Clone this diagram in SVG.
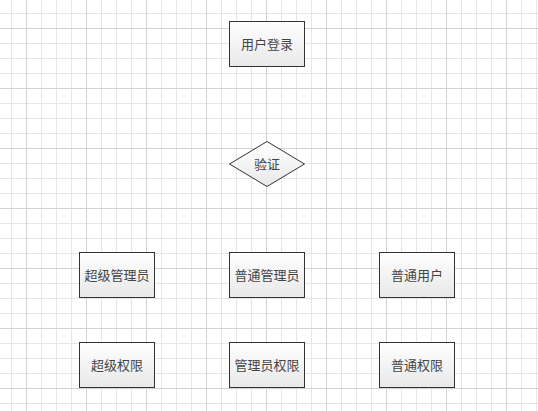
<svg xmlns="http://www.w3.org/2000/svg" width="538" height="411" viewBox="0 0 538 411">
<style>
.node{stroke:#333;stroke-width:1;fill:url(#g)}
.lbl{font-family:"Noto Sans CJK SC","Microsoft YaHei",sans-serif;font-size:13px;fill:#444;text-anchor:middle}
</style>
<defs>
<linearGradient id="g" x1="0" y1="0" x2="0" y2="1">
<stop offset="0" stop-color="#ffffff"/>
<stop offset="1" stop-color="#e8e8e8"/>
</linearGradient>
<pattern id="minor" width="15" height="15" patternUnits="userSpaceOnUse" x="11" y="13">
<path d="M0.5 0V15M0 0.5H15" stroke="#e6e6e6" stroke-width="1" fill="none"/>
</pattern>
<pattern id="major" width="60" height="60" patternUnits="userSpaceOnUse" x="26" y="28">
<path d="M0.5 0V60M0 0.5H60" stroke="#d2d2d2" stroke-width="1" fill="none"/>
</pattern>
</defs>
<rect width="538" height="411" fill="#ffffff"/>
<rect width="538" height="411" fill="url(#minor)"/>
<rect width="538" height="411" fill="url(#major)"/>
<g id="connectors"></g>
<g id="login"><rect class="node" x="229.5" y="21.5" width="75" height="45"/><text class="lbl" x="267" y="48.5">用户登录</text></g>
<g id="verify"><polygon class="node" points="229.5,164 267,141.5 304.5,164 267,186.5"/><text class="lbl" x="267" y="168.5">验证</text></g>
<g id="superadmin"><rect class="node" x="79.5" y="252.5" width="75" height="45"/><text class="lbl" x="117" y="279.5">超级管理员</text></g>
<g id="admin"><rect class="node" x="229.5" y="252.5" width="75" height="45"/><text class="lbl" x="267" y="279.5">普通管理员</text></g>
<g id="user"><rect class="node" x="379.5" y="252.5" width="75" height="45"/><text class="lbl" x="417" y="279.5">普通用户</text></g>
<g id="superperm"><rect class="node" x="79.5" y="342.5" width="75" height="45"/><text class="lbl" x="117" y="369.5">超级权限</text></g>
<g id="adminperm"><rect class="node" x="229.5" y="342.5" width="75" height="45"/><text class="lbl" x="267" y="369.5">管理员权限</text></g>
<g id="userperm"><rect class="node" x="379.5" y="342.5" width="75" height="45"/><text class="lbl" x="417" y="369.5">普通权限</text></g>
</svg>
